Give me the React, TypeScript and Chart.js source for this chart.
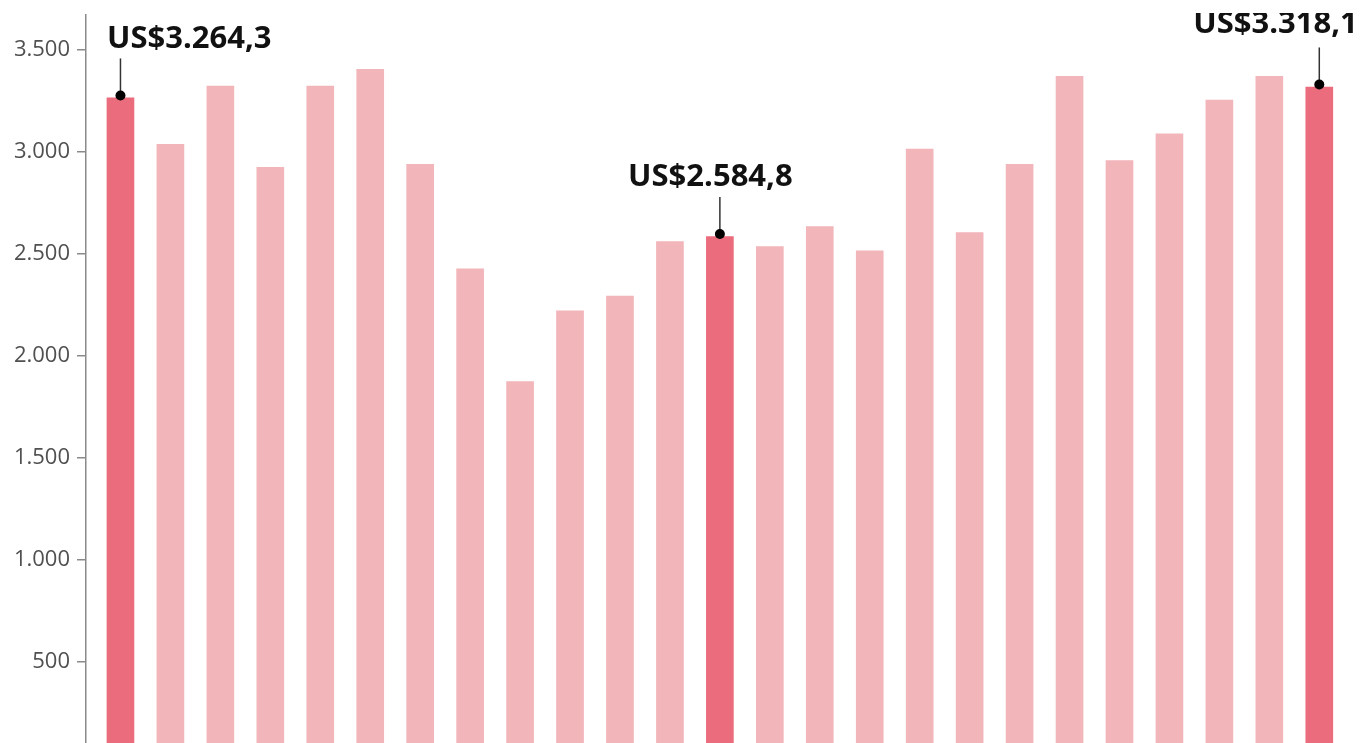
import React, { useEffect, useRef } from "react";
import { Chart, registerables } from "chart.js";

Chart.register(...registerables);

const categories = [
  "jan/22", "fev/22", "mar/22", "abr/22", "mai/22", "jun/22", "jul/22", "ago/22",
  "set/22", "out/22", "nov/22", "dez/22", "jan/23", "fev/23", "mar/23", "abr/23",
  "mai/23", "jun/23", "jul/23", "ago/23", "set/23", "out/23", "nov/23", "dez/23", "jan/24",
];

const values = [
  3264.3, 3037, 3323, 2924, 3323, 3405, 2939, 2426,
  1873, 2220, 2293, 2560, 2584.8, 2535, 2633, 2514,
  3014, 2604, 2939, 3370, 2957, 3088, 3254, 3370, 3318.1,
];

const highlighted = [0, 12, 24];
const highlightLabels = ["US$3.264,3", "US$2.584,8", "US$3.318,1"];
const highlightAlign: CanvasTextAlign[] = ["left", "center", "right"];
const highlightOffsetX = [-13.5, -9.5, 38.5];
const highlightOffsetY = [-50, -50, -54];

const yTicks = [500, 1000, 1500, 2000, 2500, 3000, 3500];

const DARK = "#EA6C7D";
const LIGHT = "#F2B5BA";

function fmt(v: number): string {
  return String(Math.round(v)).replace(/\B(?=(\d{3})+(?!\d))/g, ".");
}

const annotationPlugin = {
  id: "highlightLabels",
  afterDatasetsDraw(chart: any) {
    const ctx = chart.ctx as CanvasRenderingContext2D;
    const meta = chart.getDatasetMeta(0);
    ctx.save();
    ctx.beginPath();
    ctx.rect(0, 13, chart.width, chart.height - 13);
    ctx.clip();
    highlighted.forEach((idx, k) => {
      const el = meta.data[idx];
      if (!el) return;
      const x = el.x;
      const y = el.y;
      const dotY = y - 2.5;
      ctx.strokeStyle = "#333";
      ctx.lineWidth = 1.5;
      ctx.beginPath();
      ctx.moveTo(x, dotY);
      ctx.lineTo(x, dotY - 37);
      ctx.stroke();
      ctx.fillStyle = "#000";
      ctx.beginPath();
      ctx.arc(x, dotY, 5, 0, Math.PI * 2);
      ctx.fill();
      ctx.font = "bold 31px 'Open Sans'";
      ctx.textAlign = highlightAlign[k];
      ctx.textBaseline = "alphabetic";
      ctx.fillStyle = "#111";
      ctx.fillText(highlightLabels[k], x + highlightOffsetX[k], y + highlightOffsetY[k]);
    });
    ctx.restore();
  },
};

export default function App() {
  const ref = useRef<HTMLCanvasElement | null>(null);

  useEffect(() => {
    document.body.style.margin = "0";
    document.body.style.overflow = "hidden";
    if (!ref.current) return;
    const chart = new Chart(ref.current, {
      type: "bar",
      data: {
        datasets: [
          {
            label: "Valor",
            data: values.map((v, i) => ({ x: i, y: v })),
            backgroundColor: values.map((_, i) => (highlighted.includes(i) ? DARK : LIGHT)),
            barThickness: 27,
            borderWidth: 0,
          },
        ],
      },
      options: {
        animation: false,
        responsive: true,
        maintainAspectRatio: false,
        layout: { padding: { top: 15, left: 0, right: 0, bottom: 0 } },
        plugins: {
          legend: { display: false },
          tooltip: {
            callbacks: {
              title: (items: any[]) => categories[items[0].dataIndex],
            },
          },
        },
        scales: {
          x: {
            type: "linear",
            display: false,
            offset: false,
            min: -0.69,
            max: 24.875,
          },
          y: {
            min: 101,
            max: 3671,
            afterBuildTicks: (scale: any) => {
              scale.ticks = yTicks.map((v) => ({ value: v }));
            },
            afterFit: (scale: any) => {
              scale.width = 86;
              scale.paddingTop = 0;
              scale.paddingBottom = 0;
            },
            grid: {
              display: true,
              drawOnChartArea: false,
              drawTicks: true,
              tickLength: 9,
              color: "#8a8a8a",
              lineWidth: 1.5,
            },
            border: { display: true, color: "#8a8a8a", width: 1.5 },
            ticks: {
              padding: 7,
              color: "#505050",
              font: { family: "'Open Sans'", size: 22 },
              callback: (v: any) => fmt(Number(v)),
            },
          },
        },
      },
      plugins: [annotationPlugin],
    });
    return () => chart.destroy();
  }, []);

  return (
    <div style={{ width: 1363, height: 743, position: "relative" }}>
      <canvas ref={ref} />
    </div>
  );
}
